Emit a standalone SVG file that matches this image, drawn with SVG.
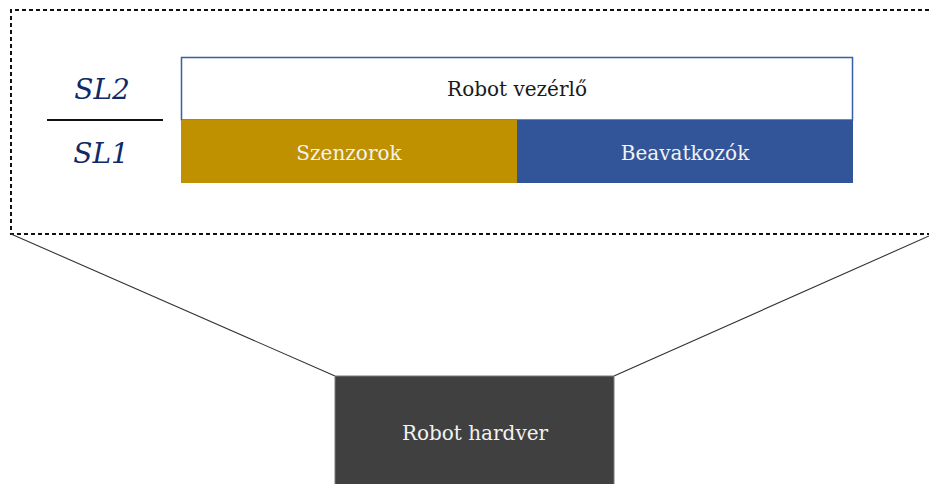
<svg xmlns="http://www.w3.org/2000/svg" width="929" height="484" viewBox="0 0 929 484">
  <style>
    text { font-family: "DejaVu Serif", serif; text-anchor: middle; }
    .light { fill: #f2f2f2; font-size: 20px; }
    .dark { fill: #1a1a1a; font-size: 20px; }
    .sl { fill: #0f2a66; font-size: 28px; font-style: italic; }
    .frame { fill: none; stroke: #111; stroke-width: 2; stroke-dasharray: 4 3; }
    .edge { fill: none; stroke: #333; stroke-width: 1.1; }
  </style>

  <!-- zoom frame around the software layers -->
  <g id="frame">
    <path class="frame" d="M929,10 H11 V234 H929"/>
  </g>

  <!-- projection lines from the frame down to the hardware -->
  <g id="connectors">
    <line class="edge" x1="11" y1="234" x2="335" y2="376"/>
    <line class="edge" x1="929" y1="236" x2="614" y2="376"/>
  </g>

  <!-- layer labels -->
  <g id="sl-labels">
    <text class="sl" x="102" y="99">SL2</text>
    <line x1="47" y1="120" x2="163" y2="120" stroke="#111" stroke-width="2"/>
    <text class="sl" x="101" y="163">SL1</text>
  </g>

  <g id="controller">
    <rect x="181.5" y="57.5" width="671" height="62.5" fill="#ffffff" stroke="#3b5ea8" stroke-width="1.5"/>
    <text class="dark" x="517" y="96">Robot vezérlő</text>
  </g>

  <g id="sensors">
    <rect x="181" y="120" width="336" height="63" fill="#bf9000"/>
    <text class="light" x="349" y="160">Szenzorok</text>
  </g>

  <g id="actuators">
    <rect x="517" y="120" width="336" height="63" fill="#32559a"/>
    <text class="light" x="685" y="160">Beavatkozók</text>
  </g>

  <g id="hardware">
    <rect x="335" y="376" width="279" height="112" fill="#404040" stroke="#7a7a7a" stroke-width="1"/>
    <text class="light" x="475" y="440">Robot hardver</text>
  </g>
</svg>
